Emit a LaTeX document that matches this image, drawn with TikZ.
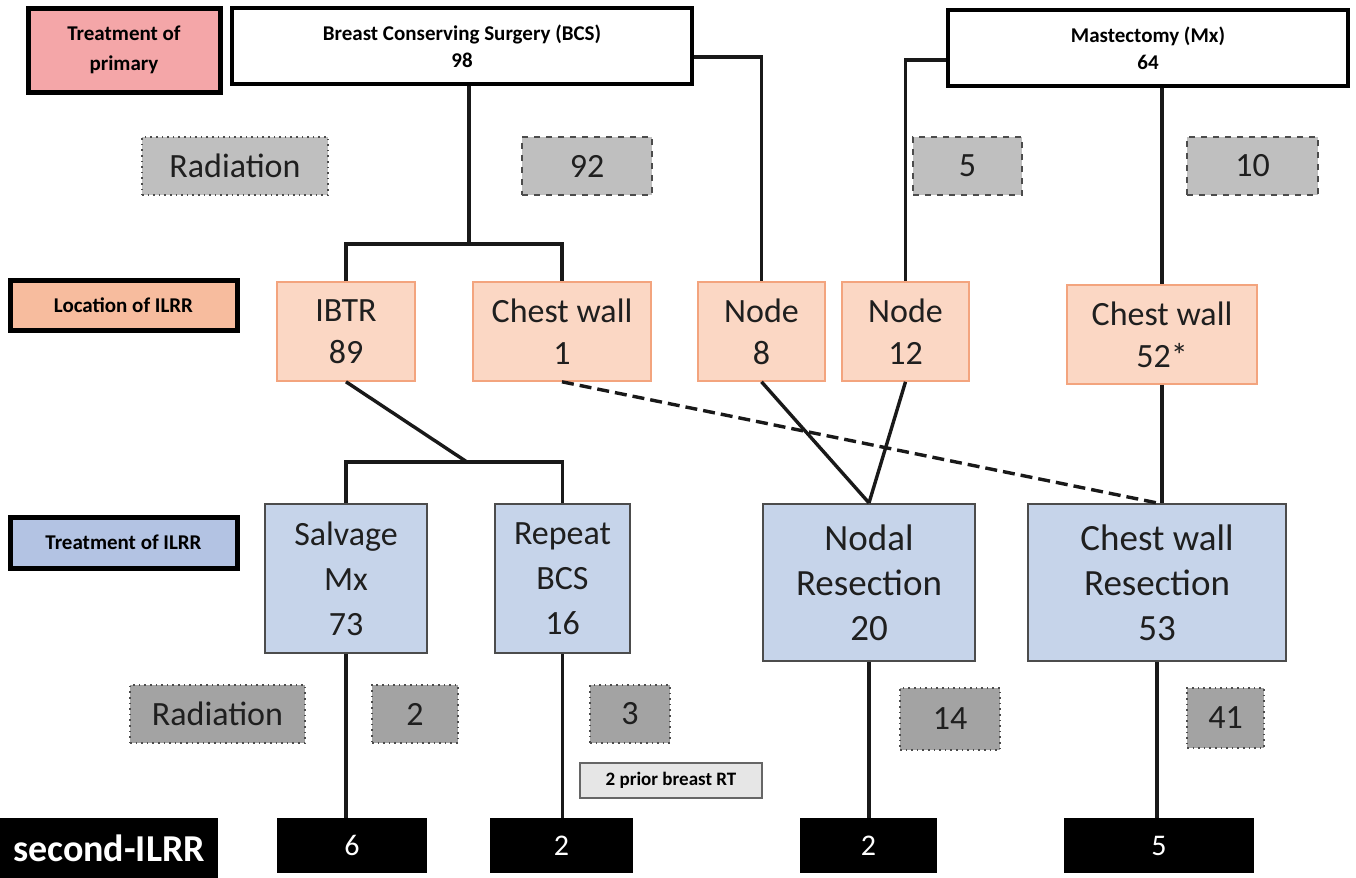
\documentclass[tikz,border=0pt]{standalone}
\usepackage{fontspec}
\setmainfont{Carlito}
\usepackage{tikz}
\usetikzlibrary{positioning}

\definecolor{primfill}{HTML}{F4A6A8}
\definecolor{locfill}{HTML}{F7BC9E}
\definecolor{trtfill}{HTML}{B3C3E3}
\definecolor{sitefill}{HTML}{FBD7C4}
\definecolor{sitedraw}{HTML}{F3A47E}
\definecolor{surgfill}{HTML}{C6D4EA}
\definecolor{rtlight}{HTML}{BFBFBF}
\definecolor{rtdark}{HTML}{A3A3A3}
\definecolor{notefill}{HTML}{E6E6E6}

\tikzset{
  rowlabel/.style={draw=black, line width=2.5pt, align=center, inner sep=1pt,
    font=\fontsize{10.5}{15}\selectfont\bfseries},
  topbox/.style={draw=black, line width=1.6pt, fill=white, align=center,
    font=\fontsize{10.5}{13.5}\selectfont\bfseries},
  rtbox/.style={draw=black!70, line width=0.8pt, fill=rtlight, text=black!88,
    font=\fontsize{17}{21}\selectfont},
  sitebox/.style={draw=sitedraw, line width=0.8pt, fill=sitefill, align=center,
    text=black!88, font=\fontsize{17}{21}\selectfont},
  surgbox/.style={draw=black!70, line width=1.1pt, fill=surgfill, align=center,
    text=black!88, font=\fontsize{17}{22.5}\selectfont},
  outbox/.style={fill=black, text=white, font=\fontsize{15}{18}\selectfont},
  link/.style={line width=1.7pt, draw=black!90}
}

\begin{document}
\begin{tikzpicture}[x=0.5pt, y=-0.5pt]
  \useasboundingbox (0,0) rectangle (1356,878);

  % row labels
  \node[rowlabel, fill=primfill, minimum width=96pt, minimum height=42pt] (prim) at (124,50) {Treatment of\\primary};
  \node[rowlabel, fill=locfill, minimum width=113.5pt, minimum height=25pt] (loc) at (123.5,305) {Location of ILRR};
  \node[rowlabel, fill=trtfill, minimum width=113.5pt, minimum height=25.5pt] (trt) at (123.5,542.5) {Treatment of ILRR};
  \node[outbox, minimum width=109pt, minimum height=30pt, font=\fontsize{19}{22}\selectfont\bfseries] (sec) at (109,848) {second-ILRR};

  % primary surgery
  \node[topbox, minimum width=230pt, minimum height=38pt] (bcs) at (462,46) {Breast Conserving Surgery (BCS)\\98};
  \node[topbox, minimum width=200pt, minimum height=38pt] (mx) at (1148,48) {Mastectomy (Mx)\\64};

  % radiation after primary
  \node[rtbox, dotted, minimum width=93pt, minimum height=29pt] (rtA) at (235,166) {Radiation};
  \node[rtbox, dashed, minimum width=65pt, minimum height=29pt] (rt92) at (587,166) {92};
  \node[rtbox, dashed, minimum width=54.5pt, minimum height=29pt] (rt5) at (967.5,166) {5};
  \node[rtbox, dashed, minimum width=65.5pt, minimum height=29pt] (rt10) at (1252.5,166) {10};

  % location of recurrence
  \node[sitebox, minimum width=69pt, minimum height=49.5pt] (ibtr) at (346,331.5) {IBTR\\89};
  \node[sitebox, minimum width=89pt, minimum height=49.5pt] (cwA) at (562,331.5) {Chest wall\\1};
  \node[sitebox, minimum width=63.5pt, minimum height=49.5pt] (nodeA) at (761.5,331.5) {Node\\8};
  \node[sitebox, minimum width=63.5pt, minimum height=49.5pt] (nodeB) at (905.5,331.5) {Node\\12};
  \node[sitebox, minimum width=95pt, minimum height=49.5pt] (cwB) at (1162,334.5) {Chest wall\\52*};

  % treatment of recurrence
  \node[surgbox, minimum width=81pt, minimum height=74.5pt] (salv) at (346,578.5) {Salvage\\Mx\\73};
  \node[surgbox, minimum width=67.5pt, minimum height=74.5pt] (rep) at (562.5,578.5) {Repeat\\BCS\\16};
  \node[surgbox, minimum width=106pt, minimum height=78.5pt, font=\fontsize{18.5}{22.5}\selectfont] (nres) at (869,582.5) {Nodal\\Resection\\20};
  \node[surgbox, minimum width=129pt, minimum height=78.5pt, font=\fontsize{18.5}{22.5}\selectfont] (cwres) at (1157,582.5) {Chest wall\\Resection\\53};

  % radiation after recurrence
  \node[rtbox, dotted, fill=rtdark, minimum width=87.5pt, minimum height=29pt] (rtB) at (217.5,714) {Radiation};
  \node[rtbox, dotted, fill=rtdark, minimum width=43pt, minimum height=29pt] (rt2) at (415,714) {2};
  \node[rtbox, dotted, fill=rtdark, minimum width=40pt, minimum height=29pt] (rt3) at (630,714) {3};
  \node[rtbox, dotted, fill=rtdark, minimum width=50pt, minimum height=31pt] (rt14) at (950,719) {14};
  \node[rtbox, dotted, fill=rtdark, minimum width=38.5pt, minimum height=30pt] (rt41) at (1225.5,718) {41};
  \node[draw=black!60, line width=0.8pt, fill=notefill, minimum width=91pt, minimum height=17.5pt,
    font=\fontsize{9.5}{11}\selectfont\bfseries] (prior) at (671,780.5) {2 prior breast RT};

  % second recurrence
  \node[outbox, minimum width=75pt, minimum height=27.5pt] (out6) at (352,845.5) {6};
  \node[outbox, minimum width=71.5pt, minimum height=27.5pt] (out2a) at (561.5,845.5) {2};
  \node[outbox, minimum width=68.5pt, minimum height=27.5pt] (out2b) at (868.5,845.5) {2};
  \node[outbox, minimum width=95pt, minimum height=27.5pt] (out5) at (1159,845.5) {5};

  % connectors
  \coordinate (bcsj) at (469,244);
  \coordinate (ibtrj) at (467,462);
  \draw[link] (bcs.south -| bcsj) -- (bcsj);
  \draw[link] (ibtr.north) |- (bcsj) -| (cwA.north);
  \draw[link] ([yshift=-5.5pt]bcs.east) -| (nodeA.north);
  \draw[link] ([yshift=-6pt]mx.west) -| (nodeB.north);
  \draw[link] (mx.south -| cwB.north) -- (cwB.north);
  \draw[link] (ibtr.south) -- (ibtrj);
  \draw[link] (salv.north) |- (ibtrj) -| (rep.north);
  \draw[link] (nodeA.south) -- (nres.north);
  \draw[link] (nodeB.south) -- (nres.north);
  \draw[link, dash pattern=on 6pt off 3pt] (cwA.south) -- (cwres.north);
  \draw[link] (cwB.south) -- (cwB.south |- cwres.north);
  \draw[link] (salv.south) -- (salv.south |- out6.north);
  \draw[link] (rep.south) -- (rep.south |- out2a.north);
  \draw[link] (nres.south) -- (nres.south |- out2b.north);
  \draw[link] (cwres.south) -- (cwres.south |- out5.north);
\end{tikzpicture}
\end{document}
